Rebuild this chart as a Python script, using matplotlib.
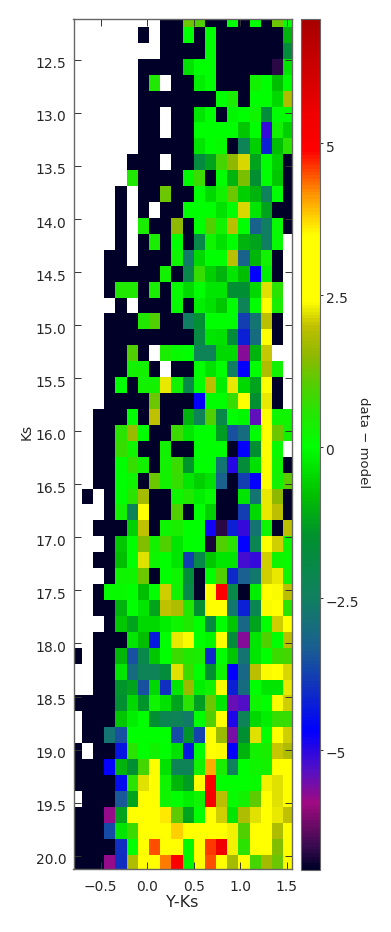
import numpy as np
import matplotlib
matplotlib.use('Agg')
import matplotlib.pyplot as plt
from matplotlib.colors import LinearSegmentedColormap
from matplotlib.transforms import ScaledTranslation

N = np.nan  # empty bin
D = -7.0    # saturated low end

x_edges = [-0.79] + [-0.70 + 0.12 * i for i in range(19)] + [1.55]
y_edges = [12.118] + [12.19 + 0.15 * i for i in range(53)] + [20.128]

residuals = [
    [N, N, N, N, N, N, N, N, D, D, 1.2, 1.0, D, D, 0, D, 0, D, 1.2, 0],
    [N, N, N, N, N, N, D, N, D, D, 0, D, 0, D, D, D, D, D, D, -1],
    [N, N, N, N, N, N, N, N, D, D, D, D, 0, D, D, D, D, D, D, -1.7],
    [N, N, N, N, N, N, D, D, D, D, -.4, 0, 0, D, D, D, D, D, -6.7, -.3],
    [N, N, N, N, N, N, D, .5, N, D, D, -.2, 0, D, D, D, .3, 0, -.8, 0],
    [N, N, N, N, N, N, D, D, D, D, D, D, D, 0, .4, D, 0, 0, -.5, 1.8],
    [N, N, N, N, N, N, D, D, N, D, D, -.3, 0, D, -.1, 0, .2, -1.7, 0, 0],
    [N, N, N, N, N, N, D, D, N, D, D, 0, 0, 0, 0, -.7, 0, -5.1, .3, -.6],
    [N, N, N, N, N, N, D, D, D, D, D, -.3, 0, .1, D, -2.3, -.6, -4.2, -.8, .6],
    [N, N, N, N, N, D, D, D, N, D, D, -1.8, -1.2, .9, 1.5, 2.13, -1.2, 0, -.6, D],
    [N, N, N, N, N, .5, D, D, D, D, -.1, .8, D, 0, -1, 1.3, -1.5, 0, -.7, D],
    [N, N, N, N, D, N, D, D, 1.2, D, D, 0, -.5, .3, 1.2, -.6, -1, -2.4, 0, D],
    [N, N, N, N, D, N, D, N, D, D, 0, 0, 0, -.4, 0, 2.13, -.3, -1.2, D, D],
    [N, N, N, N, D, N, .4, D, D, 1.5, D, 0, 1, .3, 1.9, 0, -3.2, -2.5, .1, D],
    [N, N, N, N, D, N, D, .4, D, 0, D, -2, .2, -.4, 0, -1, -1.2, -2.5, .1, N],
    [N, N, N, D, D, N, D, D, D, .2, -2.6, -.5, 0, 0, 1.9, -3.2, -.9, .3, D, N],
    [N, N, N, D, D, D, D, D, .3, D, -2, .7, -.6, -1, -.3, -.8, -4.7, -.2, D, N],
    [N, N, N, D, .5, .5, D, .4, D, .1, -.5, 0, -.3, -.3, -1.6, -1.6, -.5, 2.18, .6, N],
    [N, N, N, N, D, N, D, D, D, .1, D, -.2, -.4, -.7, 0, -2.3, 0, 3, .4, N],
    [N, N, N, D, D, D, .5, 1, D, D, -2.5, -1.6, 0, 0, 0, -3.8, -2.8, 1.9, D, N],
    [N, N, N, D, D, D, D, D, D, D, D, -1.9, -.3, -.4, -1.7, -4.2, -3, 3, D, N],
    [N, N, N, D, D, 1, D, N, .4, .1, 0, -2.3, -2.3, -.5, -.5, -5.7, -1, 2.05, N, N],
    [N, N, N, D, D, .3, .3, D, N, D, D, 0, -.4, 0, -2.5, -4.7, 0, 1.8, .3, N],
    [N, N, N, D, 0, D, .3, .3, 2.27, .3, -2, 0, 1.9, -.2, 2.27, -.5, -1.2, 3, D, N],
    [N, N, N, D, D, D, D, 1.2, D, D, D, -4.7, 0, 0, .7, 3, -1.5, 2.27, D, N],
    [N, N, D, D, D, 0, D, 2, D, D, -1, -2.3, 1, -2, 0, -.1, -5.4, 3, .2, .2],
    [N, N, D, D, .6, 1.6, 0, D, D, .8, -.3, 0, 0, -1.3, -3.5, -3, 0, 3.1, 1.2, .3],
    [N, N, D, D, .7, .2, D, D, .3, D, D, 0, 0, 0, D, -4.7, -1.5, 3, .1, N],
    [N, N, D, D, 0, .7, .3, D, .3, .8, -1.4, 0, 0, -2.8, -5, -1.7, -.4, 3.1, .2, D],
    [N, N, D, D, 0, .2, D, 1.2, .3, .7, -.3, -.6, -.4, -3.2, D, -3.8, -4.7, 3, .3, 1.1],
    [N, D, N, D, 0, .6, 1.7, D, D, .2, .5, -.2, .1, D, D, -.3, -2.8, 2.27, 1.5, D],
    [N, N, N, D, .3, -2.3, 3, D, D, 1, D, 0, -.6, D, D, -3.8, -.5, 2.27, 1.9, D],
    [N, N, D, D, D, -.6, 2, D, .2, .4, 0, 0, -4.8, -6.7, -4.2, -5.1, -2.8, .2, D, 1.9],
    [N, N, N, D, -.7, 0, 1.4, .3, 1, -.3, 0, 0, -6.8, 1, .6, -4.7, -2.2, 3, 2.1, .2],
    [N, N, D, D, -.8, 0, 2.22, .2, 0, -.3, -3.8, -2, -.7, -.3, -.3, -5.2, -5.1, 2.1, .2, .1],
    [N, N, N, D, .2, .2, 1.2, D, 0, .2, -1.7, D, 0, 1, -4.1, -3.3, -2.7, 2.1, 2.27, .2],
    [N, N, D, .1, .1, 0, -.8, 0, 2.1, .3, -2, D, 3, 5, -2, D, -.2, 3, 2.35, 1.9],
    [N, N, D, D, -1, 0, -.3, -1.2, 2, 1.8, .5, -1.5, 3, 3, -2.7, -4.2, -2.2, 2.35, 3, .6],
    [N, N, N, D, -.7, -1.2, -.5, -.5, -.2, .2, .5, 0, -1.8, 0, -.7, -3.1, -1.2, 0, 2.1, 3],
    [N, N, D, D, D, -.3, -.8, -4.3, 0, 2.27, 2.35, 0, -.1, 3, -1.7, -5.7, -.3, 1, 0, 1.9],
    [D, N, D, D, -.9, -3.5, -2, -.7, 0, .8, .5, .4, -4.1, 0, -.7, -2.8, -.3, 0, .8, .9],
    [N, N, D, D, -.3, -3, -2.3, -2.3, -1.7, 2.22, .8, 0, -1.5, .2, -4.7, -3.1, 1.9, 2.35, 3, 2.13],
    [N, N, D, D, -1.4, -1.2, -3.5, -.5, -4, -.3, 1.6, -.2, .3, 2.35, -4.2, -3, 0, -.3, -.3, 2.27],
    [D, D, D, D, -1.5, -.5, -1.4, .2, -.4, -1.2, .6, -1.3, 1.2, -.3, -5.5, -5.3, .2, 0, 2.35, 2.1],
    [N, D, D, D, -.7, -.2, 0, -1.5, -2.2, -2.3, -2.6, 0, 1, 3, -4.9, -2.3, -.5, -.2, .7, .7],
    [N, D, D, -2.8, -3.5, 0, 0, 0, 0, -3.6, -1.4, -3.7, 3, 1.6, -5.6, -1.6, 2.18, 0, 3, 2.1],
    [D, N, D, D, -4.4, .6, 0, .3, 0, -.4, -4.4, 0, 3, 2.35, -4.7, -1, .3, .4, 2.05, 1.8],
    [D, D, D, -4.7, -1, -1.6, .9, 3, -.4, -2.3, -2.3, .3, 4, .4, -2.4, 0, .2, .3, 2.4, 3],
    [D, D, D, D, -4.5, .6, 2.18, 3, .2, -.9, -1.3, 3, 5, 0, 0, 0, .1, 2.3, 2.22, 3],
    [N, D, D, D, -3.4, -1.2, 3, 3, .2, 0, -.2, .2, 5.2, 1.9, .1, .3, 1.1, 3, 2.22, 3],
    [D, D, D, -5.8, -1.2, 2.4, 3, 3, 3.6, 1.1, -1.2, 0, 3, 2.1, -.3, 1.8, 2.18, 3, 2.27, 2],
    [D, D, D, -3.6, -.3, .8, 3, 3, 3, 3.8, 3, 2.4, 3, 3.2, 2.3, 1, 2.4, 3, 1.8, 3],
    [D, D, D, D, -4, 0, 3, 4.5, 3.4, 3, -.1, 3.1, 4.6, 5.5, 2.3, .6, 3, 2.4, 1.4, 3],
    [D, D, D, -5.8, -4, 1.8, 3, 3, 4.3, 5, -.1, 3.4, 4.5, 3.4, 1.7, 3, .9, 1.7, 1.2, 3],
]

cbar_ticks = [-5, -2.5, 0, 2.5, 5]
cbar_labels = ['\u22125', '\u22122.5', '0', '2.5', '5']
xticks = [-0.5, 0, 0.5, 1, 1.5]
yticks = [12.5 + 0.5 * i for i in range(16)]

vmin, vmax = -6.98, 7.05
anchors = [(-6.98, '#000028'), (-6.6, '#3a0a50'), (-5.9, '#a00a80'), (-5.4, '#5a10c0'),
           (-4.7, '#0000ff'), (-4, '#1030c0'), (-3.3, '#1a6090'), (-2.5, '#108060'),
           (-1.5, '#009030'), (-0.8, '#00c000'), (0, '#00ff00'), (0.5, '#20e800'),
           (1, '#50d000'), (1.5, '#90b800'), (2, '#c0c000'), (2.4, '#ffff00'),
           (3.5, '#ffff00'), (4.2, '#ff9000'), (4.9, '#ff0000'), (5.5, '#f00000'),
           (7.05, '#a80000')]
cmap = LinearSegmentedColormap.from_list(
    'resid', [((v - vmin) / (vmax - vmin), c) for v, c in anchors], N=256)

W, H = 391, 932
text_color = '#262626'
frame_color = '#666666'

fig = plt.figure(figsize=(W / 100, H / 100), dpi=100)
ax = fig.add_axes([73.5 / W, 1 - 869.3 / H, 218 / W, 850 / H])
mesh = ax.pcolormesh(x_edges, y_edges, np.ma.masked_invalid(residuals),
                     cmap=cmap, vmin=vmin, vmax=vmax, linewidth=0)
ax.set_xlim(x_edges[0], x_edges[-1])
ax.set_ylim(y_edges[-1], y_edges[0])
ax.set_xticks(xticks)
ax.set_xticklabels(['\u22120.5', '0.0', '0.5', '1.0', '1.5'])
ax.set_yticks(yticks)
ax.set_yticklabels([f'{t:.1f}' for t in yticks])
ax.tick_params(direction='in', top=True, right=True, length=5, width=0.7,
               color='#333333', labelsize=10, labelcolor=text_color)
ax.tick_params(axis='x', pad=8)
ax.tick_params(axis='y', pad=5)
for s in ax.spines.values():
    s.set_color(frame_color)
    s.set_linewidth(1.0)

# the tick numbers sit a little below their ticks
shift = ScaledTranslation(0, -3 / 100, fig.dpi_scale_trans)
for lab in ax.get_yticklabels():
    lab.set_transform(lab.get_transform() + shift)

fig.text(181.7 / W, 1 - 902.7 / H, 'Y-Ks', ha='center', va='center',
         fontsize=11.5, color=text_color)
fig.text(27 / W, 1 - 432 / H, 'Ks', rotation=90, ha='center', va='center',
         fontsize=10, color=text_color)

cax = fig.add_axes([300.7 / W, 1 - 870 / H, 19.3 / W, 851 / H])
cb = fig.colorbar(mesh, cax=cax)
cb.set_ticks(cbar_ticks)
cb.set_ticklabels(cbar_labels)
cb.ax.tick_params(direction='out', length=2, width=0.7, color='#333333',
                  labelsize=10, labelcolor=text_color, pad=2)
for lab in cb.ax.get_yticklabels():
    lab.set_transform(lab.get_transform() + shift)
cb.outline.set_edgecolor(frame_color)
cb.outline.set_linewidth(0.8)
fig.text(364 / W, 1 - 443 / H, 'data \u2212 model', rotation=270, ha='center',
         va='center', fontsize=9.5, color=text_color)

fig.savefig('out.png', dpi=100, facecolor='white')
